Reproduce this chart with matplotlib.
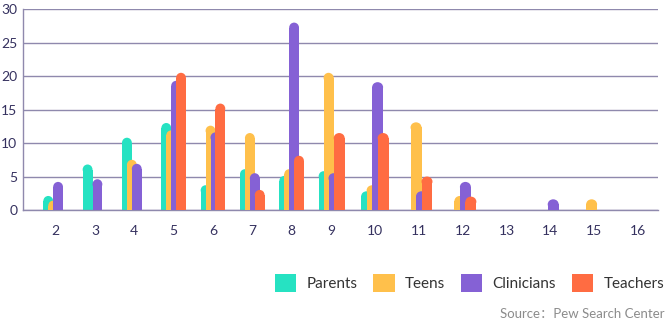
import numpy as np
import matplotlib
matplotlib.use("Agg")
import matplotlib.pyplot as plt
from matplotlib.patches import Ellipse, Patch

plt.rcParams["font.family"] = ["Lato", "Noto Sans CJK SC", "DejaVu Sans"]

# values, one entry per category 2..16
categories = list(range(2, 17))
parents = [2.1, 6.8, 10.8, 13.0, 3.7, 6.1, 5.1, 5.8, 2.8, 0, 0, 0, 0, 0, 0]
teens = [1.4, 0, 7.5, 11.9, 12.6, 11.5, 6.1, 20.5, 3.7, 13.1, 2.1, 0, 0, 1.6, 0]
clinicians = [4.2, 4.6, 6.9, 19.3, 11.6, 5.5, 28.0, 5.5, 19.1, 2.8, 4.2, 0, 1.6, 0, 0]
teachers = [0, 0, 0, 20.5, 15.9, 3.0, 8.1, 11.5, 11.5, 5.0, 2.0, 0, 0, 0, 0]

series = [
    ("Parents", parents, "#26E2C2"),
    ("Teens", teens, "#FFC04B"),
    ("Clinicians", clinicians, "#8561D5"),
    ("Teachers", teachers, "#FF6C42"),
]

TEXT = "#35315f"
LINE = "#8f89ad"


# the source picture spreads the categories a bit wider past 9
def forward(x):
    x = np.asarray(x, dtype=float)
    return np.where(x <= 9, x, 9 + (x - 9) * 1.116)


def inverse(y):
    y = np.asarray(y, dtype=float)
    return np.where(y <= 9, y, 9 + (y - 9) / 1.116)


fig = plt.figure(figsize=(6.66, 3.26), dpi=100)
ax = fig.add_axes([0.0345, 0.3558, 0.9535, 0.6180])
ax.set_xscale("function", functions=(forward, inverse))
ax.set_xlim(1.17, 16.45)
ax.set_ylim(0, 30.1)

bar_w = 0.25
offsets = [-0.1875, -0.0625, 0.0625, 0.1875]
cap_h = 1.5  # rounded top, in y units

for i, (name, values, color) in enumerate(series):
    for c, v in zip(categories, values):
        if v <= 0:
            continue
        x = c + offsets[i]
        base = v - cap_h / 2
        ax.bar(x, base, width=bar_w, color=color, linewidth=0, zorder=2 + i)
        ax.add_patch(Ellipse((x, base), bar_w, cap_h, facecolor=color,
                             linewidth=0, zorder=2 + i))

ax.set_xticks(categories)
ax.set_xticklabels([str(c) for c in categories])
ax.set_xticks([], minor=True)
ax.set_yticks(range(0, 31, 5))
ax.tick_params(axis="both", length=0, labelsize=10, colors=TEXT)
ax.tick_params(axis="x", pad=11)
ax.tick_params(axis="y", pad=4)

ax.yaxis.grid(True, color=LINE, linewidth=1)
ax.set_axisbelow(True)
for side in ("top", "right"):
    ax.spines[side].set_visible(False)
for side in ("left", "bottom"):
    ax.spines[side].set_color(LINE)
    ax.spines[side].set_linewidth(1)

handles = [Patch(facecolor=color, label=name) for name, _, color in series]
leg = fig.legend(handles=handles, loc="center right", bbox_to_anchor=(0.997, 0.132),
                 ncol=4, frameon=False, fontsize=11, handlelength=1.4,
                 handleheight=1.4, handletextpad=0.65, columnspacing=1.05,
                 borderaxespad=0, borderpad=0)
for t in leg.get_texts():
    t.set_color("#333333")

fig.text(0.997, 0.037, "Source：Pew Search Center", ha="right", va="center",
         fontsize=9.5, color="#8c8c8c")

fig.savefig("out.png", dpi=100)
